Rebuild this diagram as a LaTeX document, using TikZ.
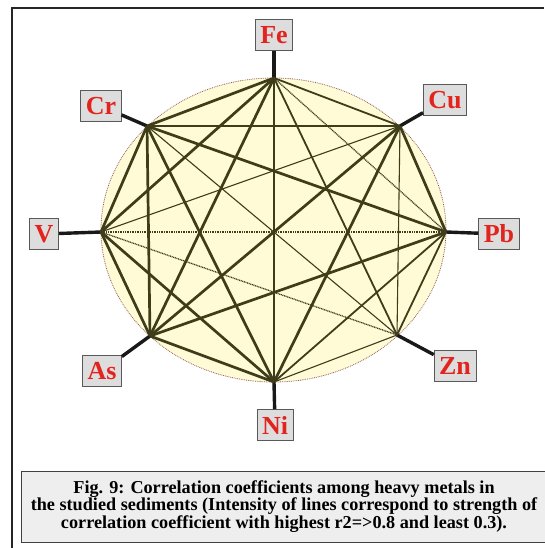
\documentclass[tikz,border=0pt]{standalone}
\usepackage{fontspec}
\setmainfont{Liberation Serif}
\usetikzlibrary{positioning}
\definecolor{ovalfill}{HTML}{FFFBD6}
\definecolor{ovaledge}{HTML}{8E5A52}
\definecolor{linkcol}{HTML}{3F3C1A}
\definecolor{labelred}{HTML}{E2231E}
\definecolor{labelgray}{HTML}{DDDDDD}
\definecolor{capgray}{HTML}{EEEEEE}
\tikzset{
  metalbox/.style={
    draw=gray!70!black, fill=labelgray, text=labelred,
    font=\fontsize{26}{26}\selectfont\bfseries,
    inner xsep=5pt, minimum height=31pt, line width=0.8pt
  },
  stick/.style={line width=3.4pt, black!90},
  strong/.style={linkcol, line width=2.7pt},
  moderate/.style={linkcol, line width=1.8pt},
  weak/.style={linkcol, line width=1.1pt},
  faint/.style={linkcol, line width=1.3pt, dash pattern=on 1pt off 0.7pt},
  captionbox/.style={
    draw=black!75, fill=capgray, line width=1pt,
    minimum width=526pt, minimum height=71pt,
    font=\fontsize{18.2}{17.5}\selectfont\bfseries, align=center
  }
}
\newcommand{\metal}[3]{%
  \coordinate (v#1) at (#2);
  \node[metalbox] (#1) at (#3) {#1};
  \draw[stick] (#1) -- (v#1);%
}

\begin{document}
\begin{tikzpicture}[x=1pt, y=-1pt]
    \useasboundingbox (0,0) rectangle (544,548);
    \draw[black!85, line width=2pt] (12,548) -- (12,8) -- (544,8);
    \draw[fill=ovalfill, draw=ovaledge, densely dotted, line width=0.8pt]
         (273.5,230) ellipse [x radius=172.5pt, y radius=152pt];

    \metal{Fe}{274,78}{274,35}
    \metal{Cu}{400,126}{445,100}
    \metal{Pb}{446,232}{499,234}
    \metal{Zn}{397,335}{455,366}
    \metal{Ni}{274,382}{275,425}
    \metal{As}{150,336}{102,371}
    \metal{V}{101,232}{44,234}
    \metal{Cr}{147,126}{101,106}

    \draw[faint] (vFe) -- (vPb);
    \draw[faint] (vV) -- (vPb);
    \draw[faint] (vV) -- (vZn);
    \draw[weak] (vCr) -- (vZn);
    \draw[weak] (vCu) -- (vZn);
    \draw[weak] (vCu) -- (vV);
    \draw[weak] (vZn) -- (vNi);
    \draw[moderate] (vFe) -- (vCu);
    \draw[moderate] (vFe) -- (vZn);
    \draw[moderate] (vFe) -- (vNi);
    \draw[moderate] (vPb) -- (vZn);
    \draw[moderate] (vPb) -- (vNi);
    \draw[strong] (vFe) -- (vCr);
    \draw[strong] (vFe) -- (vAs);
    \draw[strong] (vFe) -- (vV);
    \draw[strong] (vCr) -- (vCu);
    \draw[strong] (vCr) -- (vPb);
    \draw[strong] (vCr) -- (vNi);
    \draw[strong] (vCr) -- (vAs);
    \draw[strong] (vCr) -- (vV);
    \draw[strong] (vCu) -- (vPb);
    \draw[strong] (vCu) -- (vNi);
    \draw[strong] (vCu) -- (vAs);
    \draw[strong] (vPb) -- (vAs);
    \draw[strong] (vNi) -- (vAs);
    \draw[strong] (vNi) -- (vV);
    \draw[strong] (vAs) -- (vV);

    \node[captionbox] (caption) at (284,506.5)
         {Fig. 9: Correlation coefficients among heavy metals in\\
          the studied sediments (Intensity of lines correspond to strength of\\
          correlation coefficient with highest r2=>0.8 and least 0.3).};
\end{tikzpicture}
\end{document}
